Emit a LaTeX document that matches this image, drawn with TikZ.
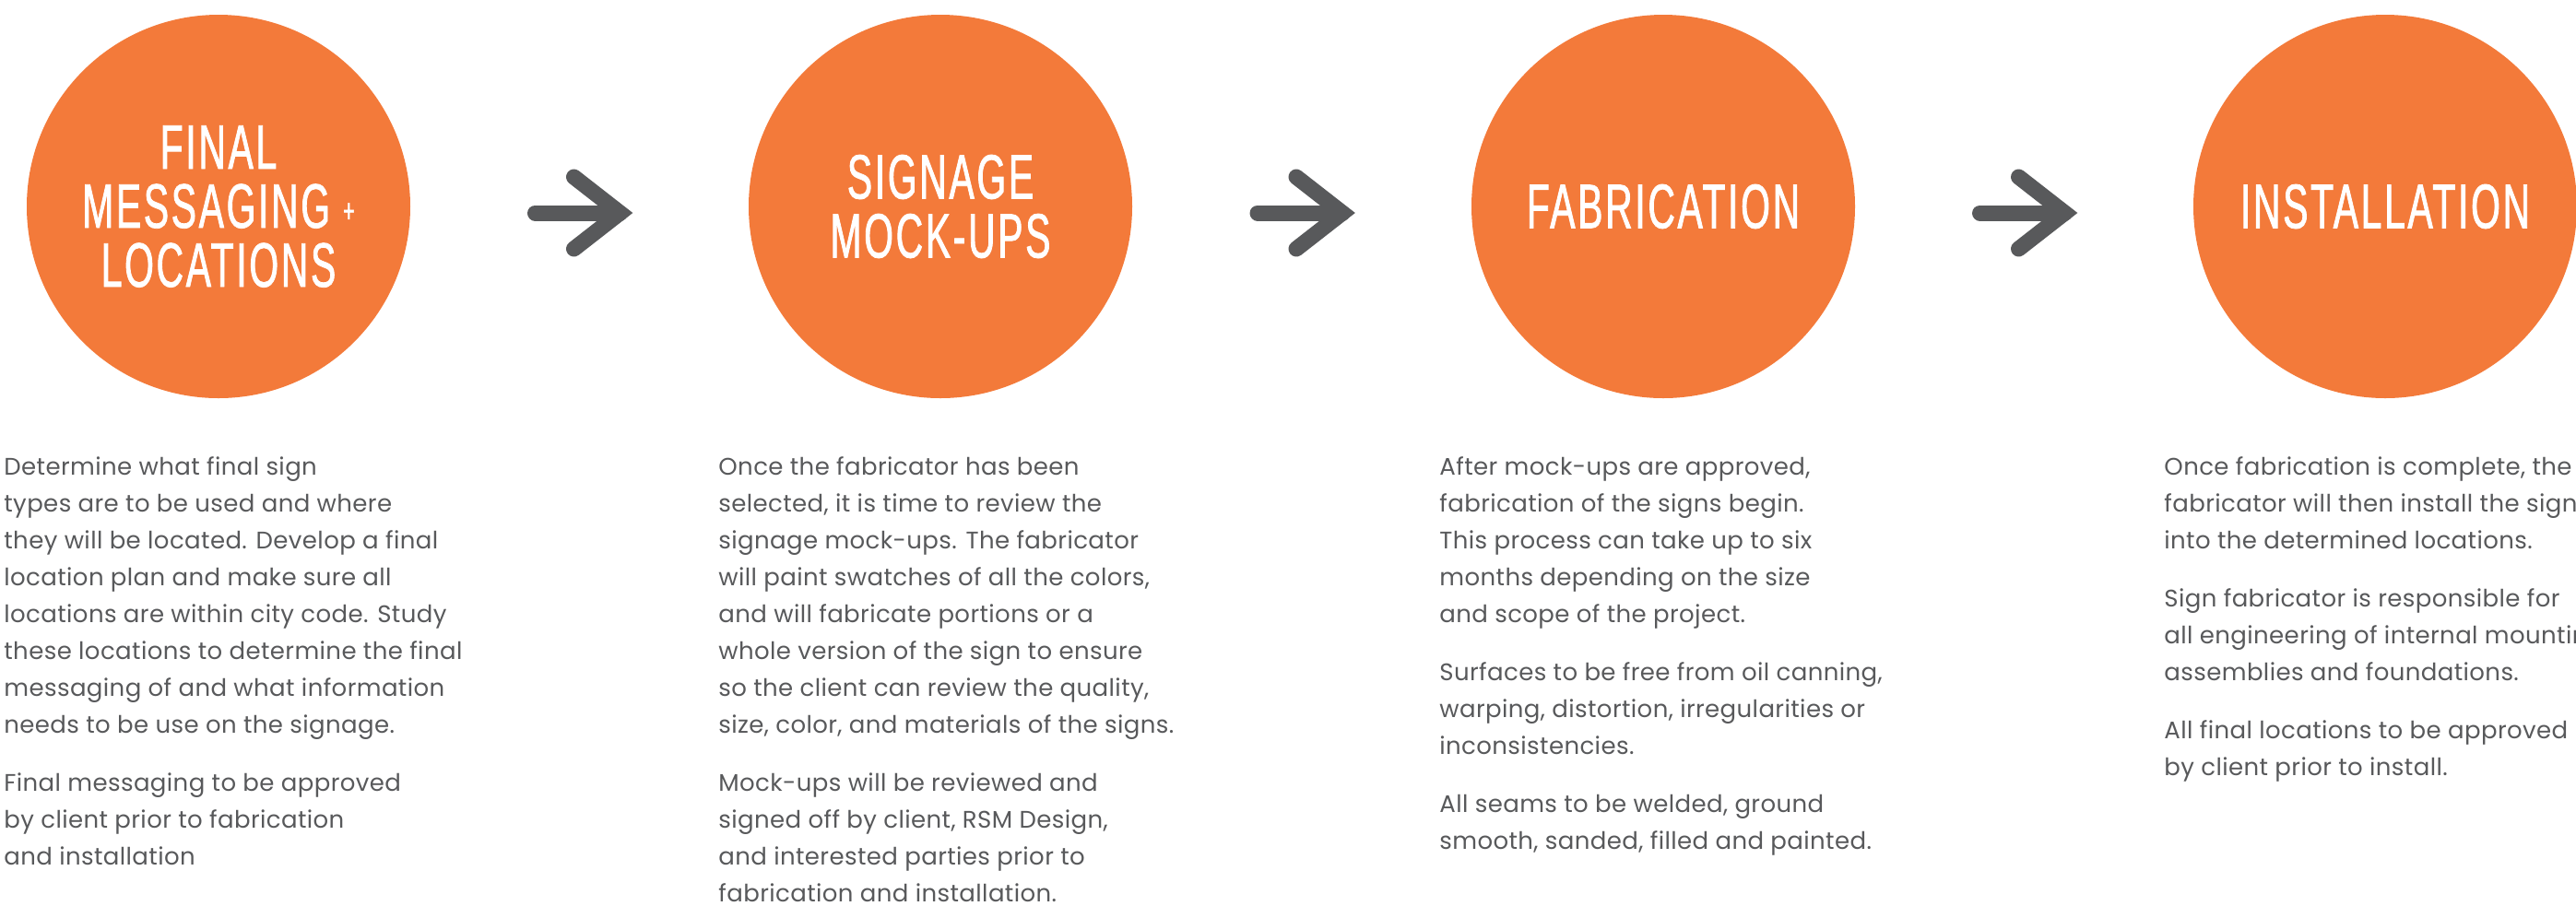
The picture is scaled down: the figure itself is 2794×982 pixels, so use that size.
\documentclass[tikz,border=0pt]{standalone}
\usepackage{fontspec}
\setmainfont[LetterSpace=1.5]{Poppins}
\newfontfamily\headfont[FakeStretch=0.6,FakeBold=1.2,LetterSpace=4]{Liberation Sans}
\usetikzlibrary{positioning,calc}

\definecolor{signorange}{HTML}{F37A3A}
\definecolor{signgray}{HTML}{58595B}

\tikzset{
  stage/.style={circle, fill=signorange, minimum size=208pt, inner sep=0pt,
    text=white, align=center, font=\headfont\fontsize{34pt}{32pt}\selectfont},
  stagenote/.style={anchor=base west, inner sep=0pt, text=signgray,
    font=\fontsize{13pt}{20pt}\selectfont},
  flow/.style={draw=signgray, line width=8.5pt, line cap=round, line join=miter}
}
\newcommand{\notebox}[1]{\parbox[t]{380pt}{\setlength{\parindent}{0pt}\setlength{\parskip}{11.5pt}#1}}

\begin{document}
\begin{tikzpicture}[x=0.5pt,y=-0.5pt]
\useasboundingbox (0,0) rectangle (2794,982);
\clip (0,0) rectangle (2794,982);

% the four stages
\node[stage] (s1) at (237,224) {FINAL\\MESSAGING \raisebox{3pt}{\fontsize{18pt}{18pt}\selectfont +}\\LOCATIONS};
\node[stage] (s2) at (1020,224) {SIGNAGE\\MOCK-UPS};
\node[stage] (s3) at (1804,224) {FABRICATION};
\node[stage] (s4) at (2587,224) {INSTALLATION};

% arrows between the stages
\foreach \a/\b in {s1/s2,s2/s3,s3/s4} {
  \coordinate (m\a) at ($(\a.east)!0.5!(\b.west)$);
  \draw[flow] ($(m\a)+(-48,7)$) -- ($(m\a)+(44,7)$);
  \draw[flow] ($(m\a)+(-6,-32)$) -- ($(m\a)+(44,7)$) -- ($(m\a)+(-6,46)$);
}

% notes under each stage
\node[stagenote] (n1) at (4,515) {\notebox{%
Determine what final sign\\
types are to be used and where\\
they will be located. Develop a final\\
location plan and make sure all\\
locations are within city code. Study\\
these locations to determine the final\\
messaging of and what information\\
needs to be use on the signage.\par
Final messaging to be approved\\
by client prior to fabrication\\
and installation}};
\node[stagenote] (n2) at (779,515) {\notebox{%
Once the fabricator has been\\
selected, it is time to review the\\
signage mock-ups. The fabricator\\
will paint swatches of all the colors,\\
and will fabricate portions or a\\
whole version of the sign to ensure\\
so the client can review the quality,\\
size, color, and materials of the signs.\par
Mock-ups will be reviewed and\\
signed off by client, RSM Design,\\
and interested parties prior to\\
fabrication and installation.}};
\node[stagenote] (n3) at (1561,515) {\notebox{%
After mock-ups are approved,\\
fabrication of the signs begin.\\
This process can take up to six\\
months depending on the size\\
and scope of the project.\par
Surfaces to be free from oil canning,\\
warping, distortion, irregularities or\\
inconsistencies.\par
All seams to be welded, ground\\
smooth, sanded, filled and painted.}};
% last column runs past the right edge, as in the original
\node[stagenote] (n4) at (2347,515) {\notebox{%
Once fabrication is complete, the\\
fabricator will then install the signs\\
into the determined locations.\par
Sign fabricator is responsible for\\
all engineering of internal mounting\\
assemblies and foundations.\par
All final locations to be approved\\
by client prior to install.}};
\end{tikzpicture}
\end{document}
